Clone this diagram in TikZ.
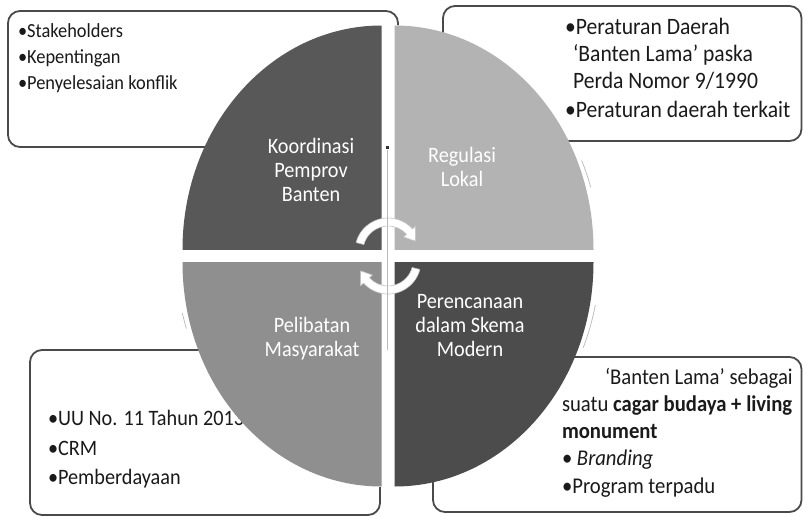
\documentclass[tikz,border=0pt]{standalone}
\usepackage{fontspec}
\setmainfont{Carlito}
\usepackage{graphicx}
\newcommand\sqz[1]{\scalebox{0.92}[1.0]{#1}}
\definecolor{qTL}{HTML}{585858}
\definecolor{qTR}{HTML}{B3B3B3}
\definecolor{qBL}{HTML}{8F8F8F}
\definecolor{qBR}{HTML}{4C4C4C}
\definecolor{boxline}{HTML}{4A4A4A}
\definecolor{txtc}{HTML}{1A1A1A}
\begin{document}
\begin{tikzpicture}[x=1pt,y=-1pt,
  box/.style={draw=boxline, line width=1.8pt, rounded corners=12pt},
  txt/.style={anchor=base west, inner sep=0pt, outer sep=0pt, text=txtc},
  tlf/.style={txt, font=\fontsize{20}{24}\selectfont},
  trf/.style={txt, font=\fontsize{23.5}{27}\selectfont},
  blf/.style={txt, font=\fontsize{22}{26}\selectfont},
  brf/.style={txt, font=\fontsize{22.5}{26}\selectfont},
  qtxt/.style={anchor=base, inner sep=0pt, outer sep=0pt, text=white, font=\fontsize{22}{26}\selectfont},
  cyc/.style={fill=white, draw=gray!45, line width=0.6pt, line join=round},
  faint/.style={draw=gray!55, line width=0.7pt}
]
\useasboundingbox (0,0) rectangle (803,517);
\fill[white] (0,0) rectangle (803,517);

% boxes behind the ellipse
\draw[box] (8,11) rectangle (398,147);
\draw[box] (443,6) rectangle (801.5,141);
\draw[box] (30,350) rectangle (380,515);
\draw[box] (433,357) rectangle (801.5,512);

% top-left box text
\node[tlf] (tl1) at (18,37) {\sqz{•Stakeholders}};
\node[tlf] (tl2) at (18,63) {\sqz{•Kepentingan}};
\node[tlf] (tl3) at (18,89) {\sqz{•Penyelesaian konflik}};

% top-right box text
\node[trf] (tr1) at (565,34) {\sqz{•Peraturan Daerah}};
\node[trf] (tr2) at (573,61) {\sqz{‘Banten Lama’ paska}};
\node[trf] (tr3) at (573,88) {\sqz{Perda Nomor 9/1990}};
\node[trf] (tr4) at (565,117) {\sqz{•Peraturan daerah terkait}};

% bottom-left box text
\node[blf] (bl1) at (48,425) {\sqz{•UU No. 11 Tahun 2013}};
\node[blf] (bl2) at (48,455) {\sqz{•CRM}};
\node[blf] (bl3) at (48,484) {\sqz{•Pemberdayaan}};

% bottom-right box text
\node[brf] (br1) at (605,384) {\sqz{‘Banten Lama’ sebagai}};
\node[brf] (br2) at (562,411) {\sqz{suatu \textbf{cagar budaya + living}}};
\node[brf] (br3) at (562,438) {\sqz{\textbf{monument}}};
\node[brf] (br4) at (562,465) {\sqz{• \textit{Branding}}};
\node[brf] (br5) at (562,493) {\sqz{•Program terpadu}};

% white ground of the exploded ellipse (hides box lines in the gaps)
\fill[white] (388,256) ellipse [x radius=205.5pt, y radius=231pt];

% four quadrants of the exploded ellipse
\begin{scope}
  \clip (0,0) rectangle (381.5,249.5);
  \fill[qTL] (381.5,249.5) ellipse [x radius=199pt, y radius=224pt];
\end{scope}
\begin{scope}
  \clip (394.5,0) rectangle (803,249.5);
  \fill[qTR] (394.5,249.5) ellipse [x radius=199pt, y radius=224pt];
\end{scope}
\begin{scope}
  \clip (0,262.5) rectangle (381.5,517);
  \fill[qBL] (381.5,262.5) ellipse [x radius=199pt, y radius=224pt];
\end{scope}
\begin{scope}
  \clip (394.5,262.5) rectangle (803,517);
  \fill[qBR] (394.5,262.5) ellipse [x radius=199pt, y radius=224pt];
\end{scope}

% quadrant labels
\node[qtxt] (k1) at (311,153) {\sqz{Koordinasi}};
\node[qtxt] (k2) at (311,177) {\sqz{Pemprov}};
\node[qtxt] (k3) at (311,201) {\sqz{Banten}};
\node[qtxt] (r1) at (462,162) {\sqz{Regulasi}};
\node[qtxt] (r2) at (462,186) {\sqz{Lokal}};
\node[qtxt] (p1) at (312,332) {\sqz{Pelibatan}};
\node[qtxt] (p2) at (312,356) {\sqz{Masyarakat}};
\node[qtxt] (s1) at (470,308) {\sqz{Perencanaan}};
\node[qtxt] (s2) at (470,332) {\sqz{dalam Skema}};
\node[qtxt] (s3) at (470,356) {\sqz{Modern}};

% cycle arrows
\coordinate (uc) at (388,251);
\coordinate (lc) at (388,261);
\filldraw[cyc] ([shift={(uc)}]165:33pt) arc[start angle=165, end angle=42, radius=33pt]
  -- ([shift={(uc)}]42:37pt) -- ([shift={(uc)}]20:29pt) -- ([shift={(uc)}]42:21pt)
  -- ([shift={(uc)}]42:25pt) arc[start angle=42, end angle=165, radius=25pt] -- cycle;
\filldraw[cyc] ([shift={(lc)}]-15:33pt) arc[start angle=-15, end angle=-138, radius=33pt]
  -- ([shift={(lc)}]-138:37pt) -- ([shift={(lc)}]-160:29pt) -- ([shift={(lc)}]-138:21pt)
  -- ([shift={(lc)}]-138:25pt) arc[start angle=-138, end angle=-15, radius=25pt] -- cycle;

% thin centre line and faint outline traces
\coordinate (vt) at (387.5,150);
\coordinate (vb) at (387.5,350);
\draw[gray!55, line width=0.7pt] (vt) -- (vb);
\fill[gray!40!black] (386,145.5) rectangle (389,149);
\coordinate (ec) at (388,256);
\draw[faint] ([shift={(ec)}]17:212pt and 235pt) arc[start angle=17, end angle=24, x radius=212pt, y radius=235pt];
\draw[faint] ([shift={(ec)}]-12:212pt and 235pt) arc[start angle=-12, end angle=-23, x radius=212pt, y radius=235pt];
\draw[faint] ([shift={(ec)}]194:212pt and 235pt) arc[start angle=194, end angle=198, x radius=212pt, y radius=235pt];
\end{tikzpicture}
\end{document}
